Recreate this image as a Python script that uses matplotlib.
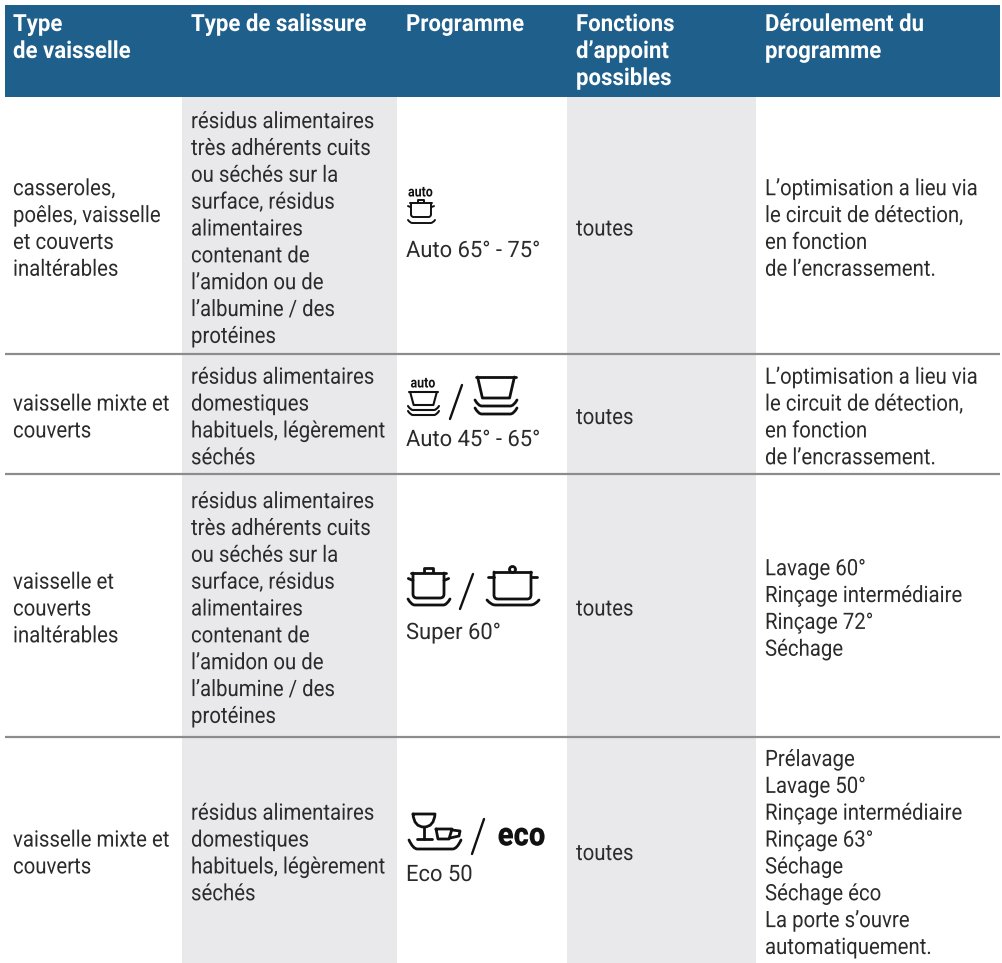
import matplotlib
matplotlib.use("Agg")
import matplotlib.pyplot as plt
from matplotlib.patches import Rectangle, Circle, PathPatch
from matplotlib.path import Path
from matplotlib.patheffects import AbstractPathEffect
from matplotlib.transforms import Affine2D

W, H = 1002, 963
FONT = ["Roboto", "Liberation Sans"]
HEAD = "#1f5f8b"
GREY = "#e9e9eb"
INK = "#2b2b2b"
BLACK = "#111111"

headers = [["Type", "de vaisselle"], ["Type de salissure"], ["Programme"],
           ["Fonctions", "d’appoint", "possibles"], ["Déroulement du", "programme"]]
col_x = [13, 191, 406, 576, 765]
col_fill = [(182, 397), (567, 756)]
row_edges = [97, 354, 474, 737, 963]

residus_long = ["résidus alimentaires", "très adhérents cuits", "ou séchés sur la", "surface, résidus",
                "alimentaires", "contenant de", "l’amidon ou de", "l’albumine / des", "protéines"]
residus_court = ["résidus alimentaires", "domestiques", "habituels, légèrement", "séchés"]
optim = ["L’optimisation a lieu via", "le circuit de détection,", "en fonction", "de l’encrassement."]

vaisselle = [["casseroles,", "poêles, vaisselle", "et couverts", "inaltérables"],
             ["vaisselle mixte et", "couverts"],
             ["vaisselle et", "couverts", "inaltérables"],
             ["vaisselle mixte et", "couverts"]]
salissure = [residus_long, residus_court, residus_long, residus_court]
programme = ["Auto 65° - 75°", "Auto 45° - 65°", "Super 60°", "Eco 50"]
programme_y = [248, 437, 630, 872]
fonctions = ["toutes", "toutes", "toutes", "toutes"]
deroulement = [optim, optim,
               ["Lavage 60°", "Rinçage intermédiaire", "Rinçage 72°", "Séchage"],
               ["Prélavage", "Lavage 50°", "Rinçage intermédiaire", "Rinçage 63°", "Séchage",
                "Séchage éco", "La porte s’ouvre", "automatiquement."]]
LINE = 26.85

fig = plt.figure(figsize=(W / 100, H / 100), dpi=100)
ax = fig.add_axes([0, 0, 1, 1])
ax.set_xlim(0, W)
ax.set_ylim(H, 0)
ax.axis("off")


class Condense(AbstractPathEffect):
    # la police du document est etroite : on resserre le texte autour de son ancre
    def __init__(self, x, sx):
        super().__init__()
        self.x, self.sx = x, sx

    def draw_path(self, renderer, gc, tpath, affine, rgbFace=None):
        squeeze = Affine2D().translate(-self.x, 0).scale(self.sx, 1).translate(self.x, 0)
        renderer.draw_path(gc, tpath, affine + squeeze, rgbFace)


def stroke(xs, ys, lw=2.0):
    ax.plot(xs, ys, color=BLACK, lw=lw, solid_capstyle="round", solid_joinstyle="round")


def curve(verts, codes, lw=2.0):
    ax.add_patch(PathPatch(Path(verts, codes), fill=False, ec=BLACK, lw=lw, capstyle="round", joinstyle="round"))


def put(x, y, s, sx=0.9, **kw):
    kw.setdefault("family", FONT)
    kw.setdefault("fontsize", 16.3)
    kw.setdefault("color", INK)
    t = ax.text(x, y, s, ha=kw.pop("ha", "left"), va="center_baseline", **kw)
    t.set_path_effects([Condense(x, sx)])


def block(x, yc, lines):
    y0 = yc - LINE * (len(lines) - 1) / 2
    for i, s in enumerate(lines):
        put(x, y0 + i * LINE, s)


def plate(x0, x1, y, depth, lw=2.0):
    # assiette : bords releves et arrondis
    d = (x1 - x0) * 0.16
    curve([(x0, y), (x0 + d * 0.5, y + depth), (x0 + d, y + depth), (x1 - d, y + depth),
           (x1 - d * 0.5, y + depth), (x1, y)],
          [Path.MOVETO, Path.CURVE3, Path.CURVE3, Path.LINETO, Path.CURVE3, Path.CURVE3], lw)


def body(x0, x1, top, bottom, r, lw=2.0):
    curve([(x0, top), (x0, bottom - r), (x0, bottom), (x0 + r, bottom), (x1 - r, bottom),
           (x1, bottom), (x1, bottom - r), (x1, top)],
          [Path.MOVETO, Path.LINETO, Path.CURVE3, Path.CURVE3, Path.LINETO, Path.CURVE3, Path.CURVE3, Path.LINETO], lw)


def pot_flat(x0, x1, top, bottom, lw=2.0):
    w = x1 - x0
    body(x0, x1, top, bottom, 0.13 * w, lw)
    stroke([x0 - 0.05 * w, x1 + 0.05 * w], [top, top], lw)
    stroke([x0 + 0.34 * w, x0 + 0.34 * w, x1 - 0.34 * w, x1 - 0.34 * w],
           [top - 0.5, top - 0.2 * (bottom - top), top - 0.2 * (bottom - top), top - 0.5], lw)
    stroke([x0 - 0.15 * w, x0], [top + 0.22 * (bottom - top), top + 0.3 * (bottom - top)], lw)
    stroke([x1, x1 + 0.15 * w], [top + 0.3 * (bottom - top), top + 0.22 * (bottom - top)], lw)


def pot_round(x0, x1, top, bottom, lw=2.0):
    w = x1 - x0
    body(x0, x1, top, bottom, 4, lw)
    stroke([x0, x1], [top, top], lw)
    stroke([x0 - 0.17 * w, x0], [top + 5, top + 5], lw)
    stroke([x1, x1 + 0.17 * w], [top + 5, top + 5], lw)
    ax.add_patch(Circle(((x0 + x1) / 2, top - 2.5), 3, fc="white", ec=BLACK, lw=lw))


def cup(x0, x1, top, bottom, lw=2.0):
    w = x1 - x0
    stroke([x0, x1], [top, top], lw)
    stroke([x0 + 0.04 * w, x0 + 0.16 * w, x1 - 0.16 * w, x1 - 0.04 * w], [top, bottom, bottom, top], lw)


def chevrons(x0, x1, y, gap, depth, lw=2.0):
    for k in range(2):
        plate(x0, x1, y + k * gap, depth, lw)


def slash(x0, x1, y0, y1):
    stroke([x0, x1], [y1, y0], 1.7)


# fonds
ax.add_patch(Rectangle((5, 5), W - 7, row_edges[0] - 5, fc=HEAD, ec="none"))
for x0, x1 in col_fill:
    ax.add_patch(Rectangle((x0, row_edges[0]), x1 - x0, H - row_edges[0], fc=GREY, ec="none"))
for y in row_edges[1:-1]:
    ax.plot([5, W - 2], [y, y], color="#8c8c8c", lw=1.6, solid_capstyle="butt")

# en-tetes
for x, lines in zip(col_x, headers):
    for i, s in enumerate(lines):
        put(x, 22 + i * 27, s, sx=0.94, color="white", fontweight="bold", fontsize=17)

# lignes
for i in range(4):
    yc = (row_edges[i] + row_edges[i + 1]) / 2 + 1
    block(col_x[0], yc, vaisselle[i])
    block(col_x[1], yc, salissure[i])
    put(col_x[2], programme_y[i], programme[i], sx=0.97)
    put(col_x[3], yc, fonctions[i])
    block(col_x[4], yc, deroulement[i])

# pictos
put(420.5, 191, "auto", sx=0.85, ha="center", fontsize=10.5, fontweight="bold", color=BLACK)
pot_flat(411, 431, 203, 217, 1.4)
plate(408, 435, 220, 3, 1.4)

put(423, 382, "auto", sx=0.85, ha="center", fontsize=10.5, fontweight="bold", color=BLACK)
cup(409, 438, 392, 405, 1.5)
chevrons(408, 439, 406, 5, 4, 1.5)
slash(450, 462, 385, 419)
cup(476, 516, 377, 398)
chevrons(475, 517, 400, 8, 6)

pot_flat(413, 444, 573, 598)
plate(408, 450, 599, 6)
slash(460, 473, 574, 609)
pot_round(494, 531, 572, 599)
plate(487, 539, 600, 5)

# verre, tasse et assiette
curve([(413, 814), (435, 814), (434, 827), (424, 827), (414, 827), (413, 814)],
      [Path.MOVETO, Path.LINETO, Path.CURVE3, Path.CURVE3, Path.CURVE3, Path.CURVE3])
stroke([424, 424], [827, 839])
stroke([417, 432], [839, 839])
stroke([436, 438, 449, 452, 436], [829, 839, 839, 829, 829])
stroke([452, 460, 459, 450], [830, 831, 836, 838])
plate(409, 461, 840, 9)
slash(472, 484, 819, 854)
put(521.5, 833, "eco", sx=0.88, ha="center", fontweight=900, fontsize=24, color=BLACK)

fig.savefig("out.png", dpi=100, facecolor="white")
